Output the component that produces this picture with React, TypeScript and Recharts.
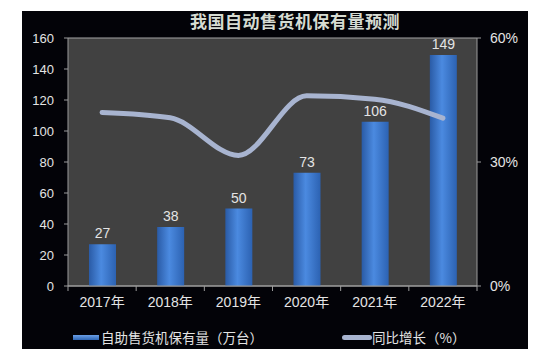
import React from 'react';
import {
  ComposedChart,
  Bar,
  Line,
  XAxis,
  YAxis,
  CartesianGrid,
  LabelList,
} from 'recharts';

// 我国自动售货机保有量预测
const years = ['2017年', '2018年', '2019年', '2020年', '2021年', '2022年'];
const stock = [27, 38, 50, 73, 106, 149]; // 万台
const growth = [42, 40.7, 31.6, 46, 45.2, 40.6]; // %

const leftTicks = [0, 20, 40, 60, 80, 100, 120, 140, 160];
const rightTicks = [0, 30, 60];

const chartData = years.map((year, i) => ({
  year,
  stock: stock[i],
  growth: growth[i],
}));

const FONT = '"Liberation Sans", Arial, "Noto Sans CJK SC", sans-serif';
const CJK = '"Noto Sans CJK SC", "Liberation Sans", sans-serif';
const TEXT = '#e4e4e4';
const AXIS = '#9c9c9c';

// x tick: label in the middle, tick mark on the category boundaries
const YearTick = (props: any) => {
  const { x, y, payload, index, visibleTicksCount, width } = props;
  const band = width / visibleTicksCount;
  return (
    <g>
      <line x1={x - band / 2} x2={x - band / 2} y1={y - 11} y2={y - 6} stroke={AXIS} />
      {index === visibleTicksCount - 1 && (
        <line x1={x + band / 2} x2={x + band / 2} y1={y - 11} y2={y - 6} stroke={AXIS} />
      )}
      <text x={x} y={y} dy="0.71em" textAnchor="middle" fill={TEXT} fontSize={14} fontFamily={FONT}>
        {payload.value}
      </text>
    </g>
  );
};

export default function App() {
  return (
    <div
      style={{
        position: 'absolute',
        left: 0,
        top: 0,
        width: 548,
        height: 363,
        background: '#ffffff',
        overflow: 'hidden',
      }}
    >
      <div
        style={{
          position: 'absolute',
          left: 22,
          top: 11,
          width: 506,
          height: 338,
          background: '#030308',
        }}
      />
      <div
        style={{
          position: 'absolute',
          left: 0,
          top: 9,
          width: 590,
          textAlign: 'center',
          color: '#d6dbd2',
          fontFamily: CJK,
          fontWeight: 700,
          fontSize: 17,
          letterSpacing: 0.5,
          lineHeight: '24px',
        }}
      >
        我国自动售货机保有量预测
      </div>
      <div style={{ position: 'absolute', left: 0, top: 0 }}>
        <ComposedChart
          width={548}
          height={363}
          data={chartData}
          margin={{ top: 38, right: 11, bottom: 47, left: 0 }}
        >
          <defs>
            <linearGradient id="barFill" x1="0" y1="0" x2="1" y2="0">
              <stop offset="0%" stopColor="#2a5ba6" />
              <stop offset="45%" stopColor="#4b8ae0" />
              <stop offset="100%" stopColor="#2c62b2" />
            </linearGradient>
          </defs>
          <CartesianGrid vertical={false} stroke="#a6a6a6" fill="#414141" />
          <XAxis
            dataKey="year"
            height={30}
            axisLine={{ stroke: AXIS }}
            tickLine={false}
            tickSize={5}
            tickMargin={6}
            tick={<YearTick />}
          />
          <YAxis
            yAxisId="left"
            width={68}
            domain={[0, 160]}
            ticks={leftTicks}
            axisLine={{ stroke: AXIS }}
            tickLine={{ stroke: AXIS }}
            tickSize={4}
            tickMargin={10}
            tick={{ fill: TEXT, fontSize: 13, fontFamily: FONT }}
          />
          <YAxis
            yAxisId="right"
            orientation="right"
            width={60}
            domain={[0, 60]}
            ticks={rightTicks}
            tickFormatter={(v: number) => `${v}%`}
            axisLine={{ stroke: AXIS }}
            tickLine={{ stroke: AXIS }}
            tickSize={4}
            tickMargin={9}
            tick={{ fill: TEXT, fontSize: 14, fontFamily: FONT }}
          />
          <Bar yAxisId="left" dataKey="stock" barSize={27} fill="url(#barFill)" isAnimationActive={false}>
            <LabelList
              dataKey="stock"
              position="top"
              offset={6}
              fill={TEXT}
              fontSize={14}
              fontFamily={FONT}
            />
          </Bar>
          <Line
            yAxisId="right"
            dataKey="growth"
            type="monotone"
            stroke="#a8b4d0"
            strokeWidth={5}
            strokeLinecap="round"
            dot={false}
            activeDot={false}
            isAnimationActive={false}
          />
        </ComposedChart>
      </div>
      {/* legend */}
      <div
        style={{
          position: 'absolute',
          left: 73,
          top: 327,
          display: 'flex',
          alignItems: 'center',
          fontFamily: CJK,
          fontSize: 13.5,
          color: TEXT,
          lineHeight: '20px',
        }}
      >
        <span
          style={{
            display: 'inline-block',
            width: 26,
            height: 5,
            marginRight: 2,
            background: 'linear-gradient(#6a9fe6, #2f66b4)',
          }}
        />
        <span>自助售货机保有量（万台）</span>
      </div>
      <div
        style={{
          position: 'absolute',
          left: 342,
          top: 327,
          display: 'flex',
          alignItems: 'center',
          fontFamily: CJK,
          fontSize: 13.5,
          color: TEXT,
          lineHeight: '20px',
        }}
      >
        <span
          style={{
            display: 'inline-block',
            width: 30,
            height: 5,
            borderRadius: 3,
            background: '#a8b4d0',
          }}
        />
        <span>同比增长（%）</span>
      </div>
    </div>
  );
}
